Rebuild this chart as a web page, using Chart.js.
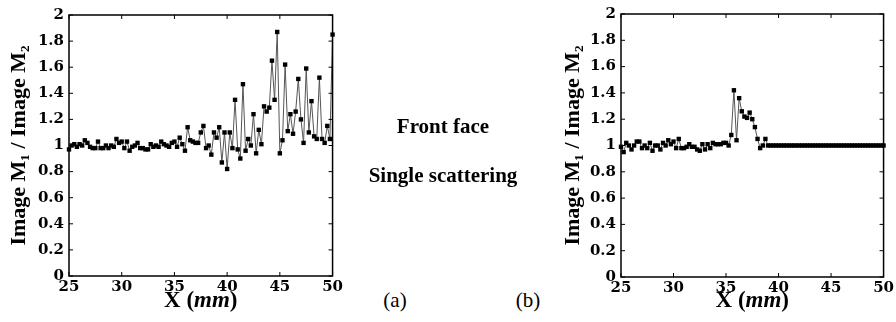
<!DOCTYPE html>
<html lang="en">
<head>
  <meta charset="UTF-8">
  <title>Image M1 / Image M2 - front face, single scattering</title>
  <script src="https://cdn.jsdelivr.net/npm/chart.js"></script>
  <style>
    body {
      margin: 0;
      width: 896px;
      height: 322px;
      background: #fff;
      position: relative;
      overflow: hidden;
      font-family: 'Liberation Serif', 'Times New Roman', serif;
      color: #000;
    }
    canvas { position: absolute; top: 0; }
    #chartA { left: 0; }
    #chartB { left: 560px; }
    .note {
      position: absolute;
      width: 220px;
      text-align: center;
      font-weight: bold;
      font-size: 21px;
      line-height: 24px;
    }
    .tag {
      position: absolute;
      width: 40px;
      text-align: center;
      font-size: 21px;
      line-height: 24px;
    }
  </style>
</head>
<body>
  <canvas id="chartA" width="345" height="322"></canvas>
  <canvas id="chartB" width="336" height="322"></canvas>

  <div class="note" style="left:333px; top:114px;">Front face</div>
  <div class="note" style="left:333px; top:163px;">Single scattering</div>
  <div class="tag" style="left:375px; top:288px;">(a)</div>
  <div class="tag" style="left:508px; top:288px;">(b)</div>

  <script>
    // sample positions along X (mm), shared by both panels
    const xGrid = [
      25, 25.25, 25.5, 25.75, 26, 26.25, 26.5, 26.75, 27, 27.25, 27.5, 27.75, 28, 28.25, 28.5, 28.75,
      29, 29.25, 29.5, 29.75, 30, 30.25, 30.5, 30.75, 31, 31.25, 31.5, 31.75, 32, 32.25, 32.5, 32.75,
      33, 33.25, 33.5, 33.75, 34, 34.25, 34.5, 34.75, 35, 35.25, 35.5, 35.75, 36, 36.25, 36.5, 36.75,
      37, 37.25, 37.5, 37.75, 38, 38.25, 38.5, 38.75, 39, 39.25, 39.5, 39.75, 40, 40.25, 40.5, 40.75,
      41, 41.25, 41.5, 41.75, 42, 42.25, 42.5, 42.75, 43, 43.25, 43.5, 43.75, 44, 44.25, 44.5, 44.75,
      45, 45.25, 45.5, 45.75, 46, 46.25, 46.5, 46.75, 47, 47.25, 47.5, 47.75, 48, 48.25, 48.5, 48.75,
      49, 49.25, 49.5, 49.75, 50
    ];

    // panel (a)
    const ratioA = [
      0.97, 1.00, 1.01, 0.99, 1.01, 1.00, 1.04, 1.02, 0.99, 0.98, 0.98, 1.03, 0.98, 0.98, 1.00, 0.98,
      1.00, 0.99, 1.05, 1.02, 1.03, 0.98, 1.03, 0.96, 0.99, 1.00, 1.02, 0.98, 0.98, 0.97, 0.97, 1.01,
      0.99, 1.00, 0.99, 1.03, 1.01, 1.00, 0.99, 1.02, 1.03, 0.99, 1.06, 1.01, 0.96, 1.14, 1.04, 1.03,
      1.02, 1.02, 1.10, 1.15, 0.98, 1.00, 0.93, 1.10, 1.06, 1.14, 0.87, 1.10, 0.82, 1.10, 0.98, 1.35,
      0.97, 0.90, 1.47, 0.96, 1.05, 1.00, 1.24, 0.94, 1.12, 1.01, 1.30, 1.26, 1.29, 1.65, 1.35, 1.87,
      0.94, 1.04, 1.62, 1.11, 1.24, 1.09, 1.26, 1.51, 1.20, 1.02, 1.59, 1.10, 1.34, 1.07, 1.05, 1.52,
      1.05, 1.02, 1.15, 1.05, 1.85
    ];

    // panel (b)
    const ratioB = [
      0.99, 0.95, 1.02, 1.00, 0.97, 1.00, 1.03, 1.03, 0.98, 1.00, 0.98, 1.02, 0.96, 1.00, 1.00, 0.97,
      1.02, 1.00, 1.04, 1.01, 1.03, 0.98, 1.05, 0.98, 0.98, 0.99, 1.01, 0.99, 0.99, 0.97, 0.96, 1.01,
      0.97, 1.01, 0.98, 1.02, 1.01, 1.01, 1.01, 1.02, 1.02, 1.00, 1.08, 1.42, 1.04, 1.36, 1.26, 1.22,
      1.21, 1.25, 1.20, 1.14, 1.05, 0.98, 1.00, 1.05, 1.00, 1.00, 1.00, 1.00, 1.00, 1.00, 1.00, 1.00,
      1.00, 1.00, 1.00, 1.00, 1.00, 1.00, 1.00, 1.00, 1.00, 1.00, 1.00, 1.00, 1.00, 1.00, 1.00, 1.00,
      1.00, 1.00, 1.00, 1.00, 1.00, 1.00, 1.00, 1.00, 1.00, 1.00, 1.00, 1.00, 1.00, 1.00, 1.00, 1.00,
      1.00, 1.00, 1.00, 1.00, 1.00
    ];

    const xTicks = [25, 30, 35, 40, 45, 50];
    const xTickLabels = ['25', '30', '35', '40', '45', '50'];
    const yTicks = [0, 0.2, 0.4, 0.6, 0.8, 1, 1.2, 1.4, 1.6, 1.8, 2];
    const yTickLabels = ['0', '0.2', '0.4', '0.6', '0.8', '1', '1.2', '1.4', '1.6', '1.8', '2'];
    const yTitle = 'Image M\u2081 / Image M\u2082';

    const serif = "'Liberation Serif', 'Times New Roman', serif";
    const tickFont = { family: "'DejaVu Serif', serif", size: 15, weight: 'bold' };

    // box around the plot with inward tick marks on all four sides
    const frame = {
      id: 'frame',
      afterDraw(chart) {
        const ctx = chart.ctx, a = chart.chartArea;
        const sx = chart.scales.x, sy = chart.scales.y;
        ctx.save();
        ctx.strokeStyle = '#000';
        ctx.lineWidth = 1.5;
        ctx.strokeRect(a.left, a.top, a.right - a.left, a.bottom - a.top);
        ctx.lineWidth = 1;
        ctx.beginPath();
        xTicks.forEach(v => {
          const px = sx.getPixelForValue(v);
          ctx.moveTo(px, a.bottom); ctx.lineTo(px, a.bottom - 4);
          ctx.moveTo(px, a.top); ctx.lineTo(px, a.top + 4);
        });
        yTicks.forEach(v => {
          const py = sy.getPixelForValue(v);
          ctx.moveTo(a.left, py); ctx.lineTo(a.left + 4, py);
          ctx.moveTo(a.right, py); ctx.lineTo(a.right - 4, py);
        });
        ctx.stroke();
        ctx.restore();
      }
    };

    // "X (mm)" with italic unit
    const xTitle = {
      id: 'xTitle',
      afterDraw(chart) {
        const ctx = chart.ctx, a = chart.chartArea;
        const parts = [['X (', 'bold'], ['mm', 'italic bold'], [')', 'bold']];
        ctx.save();
        ctx.fillStyle = '#000';
        ctx.textBaseline = 'middle';
        ctx.textAlign = 'left';
        let w = 0;
        parts.forEach(p => { ctx.font = p[1] + ' 23px ' + serif; w += ctx.measureText(p[0]).width; });
        let x = (a.left + a.right) / 2 - w / 2;
        parts.forEach(p => {
          ctx.font = p[1] + ' 23px ' + serif;
          ctx.fillText(p[0], x, 301);
          x += ctx.measureText(p[0]).width;
        });
        ctx.restore();
      }
    };

    function drawPanel(id, values, box) {
      const ctx = document.getElementById(id).getContext('2d');
      new Chart(ctx, {
        type: 'line',
        data: {
          datasets: [{
            data: xGrid.map((x, i) => ({ x: x, y: values[i] })),
            borderColor: '#555',
            borderWidth: 1,
            tension: 0,
            pointStyle: 'rect',
            pointRadius: 3.1,
            pointBackgroundColor: '#000',
            pointBorderWidth: 0,
            clip: false
          }]
        },
        options: {
          responsive: false,
          animation: false,
          events: [],
          layout: { padding: { top: box.top, right: box.right, left: 0, bottom: 0 } },
          plugins: { legend: { display: false }, tooltip: { enabled: false } },
          scales: {
            x: {
              type: 'linear',
              min: 25,
              max: 50,
              afterBuildTicks: s => { s.ticks = xTicks.map(v => ({ value: v })); },
              afterFit: s => { s.height = box.xh; },
              grid: { display: false, drawTicks: false },
              border: { display: false },
              ticks: {
                color: '#000',
                padding: 2,
                maxRotation: 0,
                autoSkip: false,
                font: tickFont,
                callback: (v, i) => xTickLabels[i]
              }
            },
            y: {
              min: 0,
              max: 2,
              afterBuildTicks: s => { s.ticks = yTicks.map(v => ({ value: v })); },
              afterFit: s => { s.width = box.yw; },
              grid: { display: false, drawTicks: false },
              border: { display: false },
              title: {
                display: true,
                text: yTitle,
                color: '#000',
                padding: { top: box.titlePad, bottom: 0 },
                font: { family: serif, size: 22, weight: 'bold' }
              },
              ticks: {
                color: '#000',
                padding: 5,
                autoSkip: false,
                font: tickFont,
                callback: (v, i) => yTickLabels[i]
              }
            }
          }
        },
        plugins: [frame, xTitle]
      });
    }

    drawPanel('chartA', ratioA, { top: 15, right: 12, xh: 46, yw: 69, titlePad: 6 });
    drawPanel('chartB', ratioB, { top: 14, right: 8, xh: 45, yw: 61, titlePad: 0 });
  </script>
</body>
</html>
